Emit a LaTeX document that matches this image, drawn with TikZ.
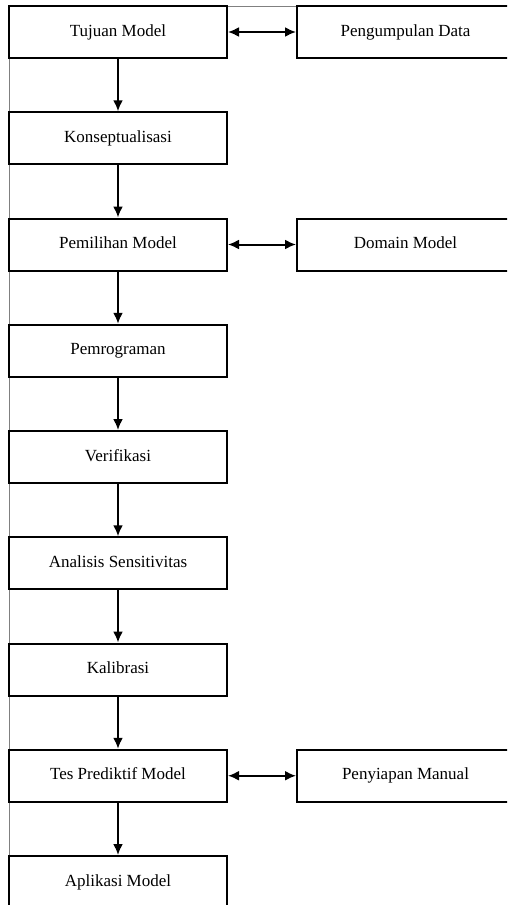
\documentclass[tikz,border=0pt]{standalone}
\usepackage{fontspec}
\setmainfont{Liberation Serif}
\usetikzlibrary{arrows.meta}
\begin{document}
\begin{tikzpicture}[x=1pt,y=-1pt,
  stepbox/.style={draw=black, line width=2pt, fill=white, minimum width=218pt,
    minimum height=52pt, inner sep=0pt, text height=11.5pt, text depth=3.5pt,
    font=\fontsize{17}{20}\selectfont},
  tip/.tip={Latex[length=11pt,width=10pt]},
  flow/.style={line width=2pt, -tip},
  link/.style={line width=2pt, tip-tip},
  frame/.style={draw=gray, line width=1pt}]
\path[use as bounding box, clip] (0,0) rectangle (507,905);
\fill[white] (0,0) rectangle (507,905);
% page frame lines
\draw[frame] (9,905) -- (9,6) -- (507,6);
% main column
\node[stepbox] (tujuan) at (118,32) {Tujuan Model};
\node[stepbox] (konsep) at (118,138.25) {Konseptualisasi};
\node[stepbox] (pemilihan) at (118,244.5) {Pemilihan Model};
\node[stepbox] (program) at (118,350.75) {Pemrograman};
\node[stepbox] (verif) at (118,457) {Verifikasi};
\node[stepbox] (analisis) at (118,563.25) {Analisis Sensitivitas};
\node[stepbox] (kalib) at (118,669.5) {Kalibrasi};
\node[stepbox] (tes) at (118,775.75) {Tes Prediktif Model};
\node[stepbox] (aplikasi) at (118,882) {Aplikasi Model};
% side column
\node[stepbox, minimum width=217pt] (data) at (405.5,32) {Pengumpulan Data};
\node[stepbox, minimum width=217pt] (domain) at (405.5,244.5) {Domain Model};
\node[stepbox, minimum width=217pt] (manual) at (405.5,775.75) {Penyiapan Manual};
% connectors
\draw[flow] (tujuan) -- (konsep);
\draw[flow] (konsep) -- (pemilihan);
\draw[flow] (pemilihan) -- (program);
\draw[flow] (program) -- (verif);
\draw[flow] (verif) -- (analisis);
\draw[flow] (analisis) -- (kalib);
\draw[flow] (kalib) -- (tes);
\draw[flow] (tes) -- (aplikasi);
\draw[link] (tujuan) -- (data);
\draw[link] (pemilihan) -- (domain);
\draw[link] (tes) -- (manual);
\end{tikzpicture}
\end{document}
